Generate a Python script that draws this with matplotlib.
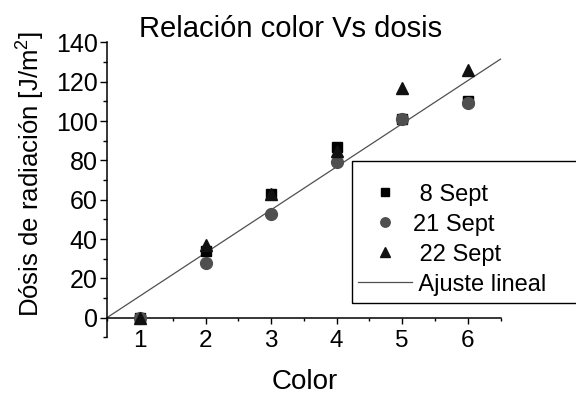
import matplotlib
matplotlib.use("Agg")
import matplotlib.pyplot as plt
from matplotlib.ticker import MultipleLocator, FixedLocator
from matplotlib.patches import Rectangle

# Data: colour index vs. radiation dose for three measurement days
colors_x = [1, 2, 3, 4, 5, 6]
dosis_8sept = [0, 34, 63, 87, 101, 110]
dosis_21sept = [0, 28, 53, 79, 101, 109]
dosis_22sept = [0, 37, 63, 85, 117, 126]

# Linear fit y = slope * x + intercept
fit_slope = 21.9
fit_intercept = -10.8
fit_x = [0.5, 6.5]

x_ticks = [1, 2, 3, 4, 5, 6]
y_ticks = [0, 20, 40, 60, 80, 100, 120, 140]

plt.rcParams['font.family'] = ['Liberation Sans', 'DejaVu Sans']
plt.rcParams['mathtext.fontset'] = 'custom'
plt.rcParams['mathtext.rm'] = 'Liberation Sans'
plt.rcParams['mathtext.it'] = 'Liberation Sans'

W, H = 576, 394
fig = plt.figure(figsize=(W / 100, H / 100), dpi=100)

def fx(px):
    return px / W

def fy(py):
    return 1 - py / H

x0, x1 = 107.3, 500.5
y_top, y_bot = 42.5, 337.4
ax = fig.add_axes([fx(x0), fy(y_bot), fx(x1) - fx(x0), fy(y_top) - fy(y_bot)])
ax.set_xlim(0.5, 6.5)
ax.set_ylim(-10, 140)

fit_y = [fit_slope * x + fit_intercept for x in fit_x]

ax.plot(colors_x, dosis_8sept, linestyle='none', marker='s', ms=7.5,
        color='#000000', label=' 8 Sept', zorder=3)
ax.plot(colors_x, dosis_21sept, linestyle='none', marker='o', ms=8.5,
        color='#4f4f4f', label='21 Sept', zorder=3)
ax.plot(colors_x, dosis_22sept, linestyle='none', marker='^', ms=8.5,
        color='#111111', label=' 22 Sept', zorder=3)
ax.plot(fit_x, fit_y, color='#505050', lw=0.9, label=' Ajuste lineal', zorder=2,
        clip_on=False)

# Spines: left full, bottom drawn through y = 0
for s in ('top', 'right'):
    ax.spines[s].set_visible(False)
ax.spines['bottom'].set_position(('data', 0))
ax.spines['left'].set_linewidth(1.1)
ax.spines['bottom'].set_linewidth(1.1)

ax.xaxis.set_major_locator(FixedLocator(x_ticks))
ax.xaxis.set_minor_locator(MultipleLocator(0.5))
ax.yaxis.set_major_locator(FixedLocator(y_ticks))
ax.yaxis.set_minor_locator(MultipleLocator(10))

ax.tick_params(axis='x', which='major', direction='out', length=4, width=1.0,
               labelsize=17.5, pad=5)
ax.tick_params(axis='x', which='minor', direction='out', length=2.5, width=1.0)
ax.tick_params(axis='y', which='major', direction='out', length=5, width=1.0,
               labelsize=18, pad=2)
ax.tick_params(axis='y', which='minor', direction='out', length=3, width=1.0)

# Titles and axis labels
fig.text(fx(291), fy(37), 'Relación color Vs dosis', fontsize=21,
         ha='center', va='baseline')
fig.text(fx(305), fy(389), 'Color', fontsize=20, ha='center', va='baseline')
fig.text(fx(31), fy(174), r'Dósis de radiación [J/m$^{2}$]', fontsize=18.5,
         rotation=90, ha='center', va='center')

# Legend with an open-ended frame
leg = ax.legend(loc='upper left', bbox_to_anchor=(fx(358), fy(183.5)),
                bbox_transform=fig.transFigure, frameon=False, fontsize=17,
                borderpad=0, borderaxespad=0, handlelength=2.27,
                handletextpad=0.06, labelspacing=0.34, numpoints=1,
                markerscale=0.8)
fig.add_artist(Rectangle((fx(351.7), fy(302.7)), fx(600) - fx(351.7),
                         fy(160.7) - fy(302.7), transform=fig.transFigure,
                         fill=False, edgecolor='black', lw=1.0, clip_on=False))

fig.savefig('out.png', dpi=100)
